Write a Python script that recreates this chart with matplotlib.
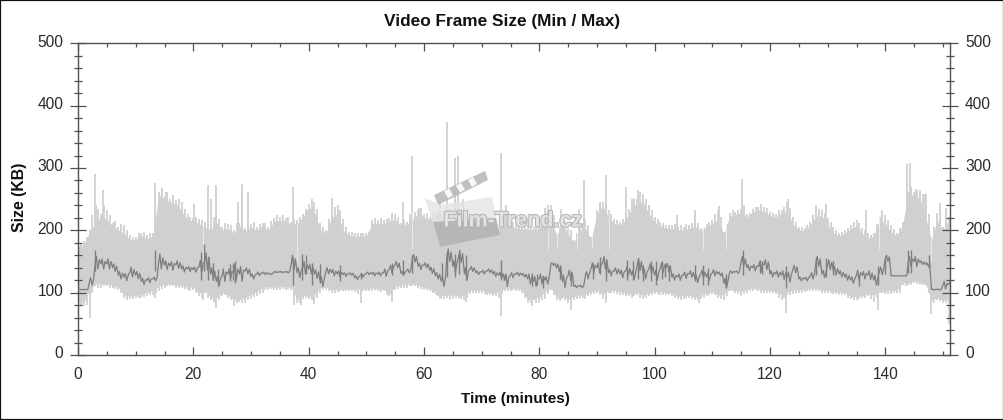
import matplotlib
matplotlib.use("Agg")
import matplotlib.pyplot as plt
import matplotlib.patheffects as pe
from matplotlib.patches import Polygon, Rectangle
from matplotlib.ticker import MultipleLocator
from matplotlib.transforms import ScaledTranslation

plt.rcParams['font.family'] = ['Liberation Sans', 'DejaVu Sans']

# Per-minute envelope (ten values per row)
minutes = list(range(0, 152))
half_minutes = [m + 0.5 for m in minutes]
max_size = [178,183,200,218,226,222,212,206,208,192,
            190,196,192,196,262,255,250,248,246,226,
            220,218,214,206,224,206,210,200,212,204,
            210,205,212,205,220,221,220,214,216,226,
            242,246,212,200,226,240,218,198,196,196,
            196,216,216,216,220,226,212,214,222,232,
            226,222,230,226,222,228,224,218,214,206,
            204,208,204,204,224,212,208,208,208,206,
            208,236,240,196,214,204,184,206,218,190,
            232,246,232,218,214,222,240,250,258,240,
            222,214,208,208,206,206,208,216,204,210,
            216,232,198,228,230,234,226,234,238,238,
            230,226,232,246,222,206,204,214,228,232,
            220,206,196,200,208,216,204,196,196,222,
            224,208,196,214,262,262,256,258,190,228,
            206,222]
max_half = [180,190,225,235,240,225,215,210,200,190,
            195,198,195,210,268,262,256,250,235,222,
            222,216,210,222,218,212,208,212,214,205,
            214,210,212,215,224,224,222,218,222,235,
            250,235,206,218,238,232,205,197,196,195,
            197,220,219,218,228,222,216,226,230,236,
            228,230,232,230,232,226,226,218,210,208,
            206,210,206,214,222,214,210,212,207,212,
            224,240,224,205,215,200,195,212,208,198,
            242,244,226,216,218,234,252,262,250,232,
            218,212,208,210,208,210,212,212,206,214,
            226,222,210,232,232,240,228,238,242,236,
            228,232,238,236,214,206,208,224,234,228,
            214,200,198,204,214,212,200,192,210,226,
            216,202,204,230,270,264,258,226,205,220,
            214,222]
min_size = [80,78,95,110,108,110,107,105,92,90,
            92,92,95,97,103,108,110,108,108,105,
            105,95,100,88,82,95,92,85,85,83,
            90,95,100,105,104,105,105,105,84,90,
            90,88,100,105,100,101,102,102,101,100,
            102,102,102,102,94,104,107,108,110,108,
            105,102,96,92,92,90,92,88,98,100,
            100,97,95,92,102,103,103,100,84,88,
            84,90,104,88,90,84,88,92,90,96,
            100,90,100,100,97,95,92,96,90,94,
            98,97,96,95,90,90,92,88,90,94,
            98,92,88,102,100,95,100,103,102,100,
            100,98,88,96,98,100,101,102,103,100,
            100,98,97,96,90,88,92,94,85,100,
            98,98,100,112,112,115,112,110,84,88,
            84,85]
min_half = [78,80,100,108,110,108,106,100,88,90,
            92,93,96,100,106,110,110,108,106,103,
            100,92,92,85,88,96,88,84,84,88,
            93,98,104,106,104,106,106,95,84,92,
            88,92,104,102,100,102,102,102,98,102,
            102,104,101,97,92,106,108,110,110,106,
            104,100,94,90,88,92,90,92,100,100,
            98,96,94,98,102,104,102,92,84,84,
            88,98,96,86,88,86,90,91,94,98,
            96,94,100,98,96,94,94,92,92,96,
            98,96,96,92,88,92,90,88,92,96,
            96,90,94,102,98,98,102,104,100,100,
            100,92,92,97,100,100,102,103,102,100,
            99,98,96,92,88,90,92,90,92,100,
            98,99,100,110,112,114,112,100,84,86,
            84,70]
mean_size = [105,105,118,148,146,146,140,128,125,133,
             128,118,120,122,150,144,143,145,138,138,
             137,142,150,130,118,128,130,132,130,135,
             126,130,131,130,133,133,133,148,132,140,
             138,130,118,135,132,130,129,130,124,128,
             131,130,130,132,138,145,131,135,155,142,
             144,136,127,118,160,142,158,130,138,132,
             133,135,130,128,120,128,130,128,122,118,
             122,120,146,140,118,128,110,110,128,140,
             140,148,132,135,130,135,128,145,130,138,
             128,140,140,125,125,128,130,122,130,125,
             132,130,115,133,133,150,140,140,142,145,
             130,130,128,125,138,122,122,127,150,130,
             145,135,130,125,120,128,128,128,120,135,
             155,127,127,127,150,150,148,145,105,105,
             112,113]
mean_spread = [0,0,6,10,8,8,6,6,6,8,
               6,5,4,3,12,7,7,6,5,4,
               4,10,14,10,8,10,8,12,12,5,
               4,3,2,1,1,1,1,12,8,10,
               8,7,8,5,5,5,3,2,3,3,
               2,3,3,6,6,5,3,3,6,5,
               4,5,5,8,10,10,10,10,4,3,
               3,3,4,5,10,4,3,3,8,8,
               8,6,2,6,10,8,2,2,6,8,
               8,10,5,5,6,7,7,10,8,8,
               8,8,7,5,5,5,5,6,6,6,
               5,3,8,2,2,8,5,5,8,8,
               5,5,7,8,6,3,3,5,8,6,
               8,7,5,5,5,8,6,7,8,6,
               5,0,0,0,8,8,3,3,1,1,
               6,4]

# Single-frame peaks and dips of the min and max traces
max_peak_t = [2.9,3.2,4.4,5.0,13.4,15.2,20.1,22.6,23.1,23.9,27.7,28.4,29.5,37.2,44.0,56.4,57.9,59.2,62.7,64.0,65.3,65.9,
              66.8,73.4,74.3,83.7,86.8,87.8,90.6,91.5,95.1,96.1,97.1,99.0,103.9,107.0,111.2,115.2,123.2,128.0,129.7,
              136.7,139.5,143.8,144.2,145.4,146.0,146.8,149.4,150.6]
max_peak_v = [290,240,265,232,276,262,242,272,250,272,245,275,262,270,252,245,320,236,250,374,316,320,250,324,240,234,234,
              280,245,288,270,250,265,240,224,232,239,283,250,240,242,232,232,307,308,267,265,259,244,236]
min_dip_t = [2.0,13.3,21.6,24.0,27.0,37.4,38.6,41.0,49.0,54.4,62.7,67.3,73.3,78.8,85.5,91.5,107.7,122.7,138.7,148.0,151.0]
min_dip_v = [60,92,88,76,78,80,80,82,83,85,90,85,62,78,72,83,84,67,72,65,50]
notch_t = [21.6,37.9,58.0,81.5,83.1,86.5,89.2,92.0,108.3,112.3,138.9,148.0]
notch_v = [150,150,170,170,170,170,172,170,170,170,170,150]

# Dense flicker of the mean line: where, lowest and highest value
flick_t = [3.0,13.4,21.4,21.9,22.6,23.4,24.2,26.4,26.9,27.3,37.2,38.8,39.6,40.6,42.0,45.5,49.0,54.4,56.4,57.9,63.2,64.0,
           65.3,66.0,67.3,73.3,73.8,78.8,79.6,80.6,83.6,85.5,89.3,90.6,91.5,95.2,96.2,97.1,97.9,99.3,100.2,101.2,101.8,
           102.4,107.0,108.3,109.2,112.3,115.3,118.2,118.6,122.7,128.0,129.7,130.9,135.5,138.8,139.9,143.9,144.5,147.5]
flick_lo = [135,135,120,135,120,120,112,118,120,115,112,120,130,112,115,118,122,128,128,132,120,125,125,130,120,120,120,110,
            112,108,122,110,122,130,118,120,120,122,118,118,112,122,125,118,118,112,112,110,128,132,130,108,128,125,128,110,
            112,130,132,132,140]
flick_hi = [168,168,166,178,158,148,138,146,148,150,158,162,160,148,146,145,132,148,152,160,148,165,162,160,160,152,128,132,
            130,126,142,135,148,158,150,152,150,156,145,150,150,150,148,145,145,145,140,130,168,152,150,142,158,155,150,128,
            142,158,168,168,160]

title = "Video Frame Size (Min / Max)"
x_label = "Time (minutes)"
y_label = "Size (KB)"
watermark = "Film-Trend.cz"

W, H = 1004, 420
fig = plt.figure(figsize=(W / 100, H / 100), dpi=100, facecolor='white')
fig.add_artist(Rectangle((0, 0), 1, 1, transform=fig.transFigure, fill=False, ec='#111111', lw=1.6))
ax = fig.add_axes([78 / W, 1 - 355 / H, (950.5 - 78) / W, (355 - 43.3) / H])

GREY = '#d0d0d0'
MEAN = '#7f7f7f'
SPINE = '#505050'
mid = 130
# solid core between the lower of each pair of readings, with teeth for each reading
upper_core = [min(a, b) - 5 for a, b in zip(max_size, max_half)]
lower_core = [max(a, b) + 4 for a, b in zip(min_size, min_half)]
ax.fill_between(minutes, lower_core, upper_core, color=GREY, lw=0, zorder=1)
ax.vlines(minutes, mid, max_size, color=GREY, lw=1.3, zorder=1)
ax.vlines(half_minutes, mid, max_half, color=GREY, lw=1.3, zorder=1)
ax.vlines(minutes, min_size, mid, color=GREY, lw=1.3, zorder=1)
ax.vlines(half_minutes, min_half, mid, color=GREY, lw=1.3, zorder=1)
ax.vlines(max_peak_t, mid, max_peak_v, color=GREY, lw=1.3, zorder=1)
ax.vlines(min_dip_t, min_dip_v, mid, color=GREY, lw=1.3, zorder=1)
ax.vlines(notch_t, notch_v, [v + 60 for v in notch_v], color='white', lw=0.7, zorder=1.5, alpha=0.55)

# mean trace: a saw-tooth of the reading and its spread within each minute
saw_t, saw_v = [], []
for m, v, s in zip(minutes, mean_size, mean_spread):
    saw_t += [m, m + 0.2, m + 0.45, m + 0.7]
    saw_v += [v, v + s, v - s, v + 0.5 * s]
ax.plot(saw_t, saw_v, color=MEAN, lw=0.9, zorder=3)
ax.vlines(flick_t, flick_lo, flick_hi, color=MEAN, lw=1.0, zorder=3)

ax.set_xlim(0, 151.3)
ax.set_ylim(0, 500)
ax.xaxis.set_major_locator(MultipleLocator(20))
ax.xaxis.set_minor_locator(MultipleLocator(5))
ax.yaxis.set_major_locator(MultipleLocator(100))
ax.yaxis.set_minor_locator(MultipleLocator(20))
ax.tick_params(axis='x', which='major', direction='in', length=6, width=0.9, color=SPINE, top=True, bottom=True,
               labelsize=11.2, labelcolor='#2a2a2a', pad=8.5)
ax.tick_params(axis='x', which='minor', direction='in', length=3, width=0.9, color=SPINE, top=True, bottom=True)
ax.tick_params(axis='y', which='major', direction='inout', length=11, width=0.9, color=SPINE, left=True, right=True,
               labelleft=True, labelright=True, labelsize=11.2, labelcolor='#2a2a2a', pad=5)
ax.tick_params(axis='y', which='minor', direction='inout', length=6, width=0.9, color=SPINE, left=True, right=True)
for s in ax.spines.values():
    s.set_color(SPINE)
    s.set_linewidth(1.0)
ax.set_axisbelow(False)

up = ScaledTranslation(0, 2.5 / 100, fig.dpi_scale_trans)
for tick in ax.yaxis.get_major_ticks():
    tick.label1.set_transform(tick.label1.get_transform() + up)
    tick.label2.set_transform(tick.label2.get_transform() + up)

fig.text(502 / W, 1 - 21.5 / H, title, ha='center', va='center', fontsize=12.4, fontweight='bold', color='#111111')
fig.text(515 / W, 1 - 399 / H, x_label, ha='center', va='center', fontsize=11, fontweight='bold', color='#111111')
fig.text(20 / W, 1 - 197 / H, y_label, ha='center', va='center', rotation=90, fontsize=11.4, fontweight='bold', color='#111111')

# Watermark clapper-board, in pixel positions of the figure
def px(points):
    return [(x / W, 1 - y / H) for x, y in points]

fig.add_artist(Polygon(px([(434, 195), (485, 171), (488, 180), (438, 205)]), transform=fig.transFigure,
                       fc='#b9b9b9', ec='none', alpha=.9, zorder=6))
for x0 in (444, 456, 468):
    dx = x0 - 434
    fig.add_artist(Polygon(px([(x0, 196 - dx * .47), (x0 + 5, 193 - dx * .47), (x0 + 9, 200 - dx * .47), (x0 + 4, 203 - dx * .47)]),
                           transform=fig.transFigure, fc='white', ec='none', alpha=.9, zorder=7))
fig.add_artist(Polygon(px([(425, 198), (440, 247), (500, 235), (492, 197), (440, 205)]), transform=fig.transFigure,
                       fc='#e4e4e4', ec='none', alpha=.8, zorder=6))
fig.add_artist(Polygon(px([(433, 222), (440, 247), (500, 235), (496, 218)]), transform=fig.transFigure,
                       fc='#b2b2b2', ec='none', alpha=.9, zorder=6))
fig.text(513 / W, 1 - 221 / H, watermark, ha='center', va='center', fontsize=15.5, fontweight='bold', color='#e2e2e2', zorder=8,
         path_effects=[pe.withStroke(linewidth=1.5, foreground='#b4b4b4')])

fig.savefig('out.png', dpi=100, facecolor='white')
